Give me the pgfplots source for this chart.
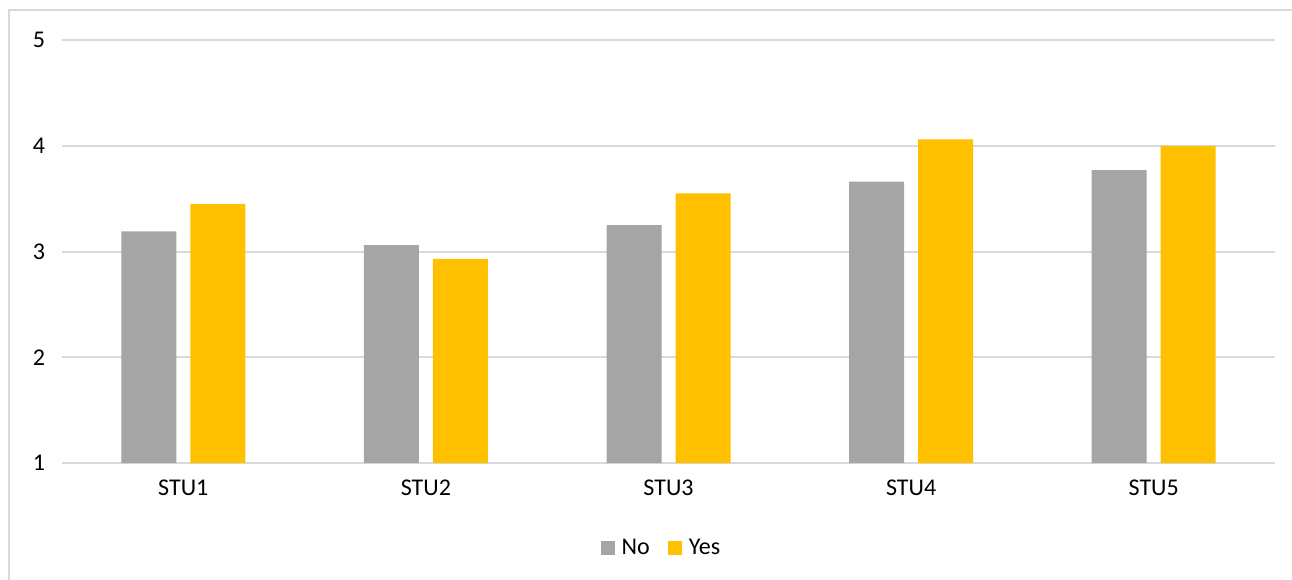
\documentclass[border=0pt]{standalone}
\usepackage{fontspec}
\setmainfont{Carlito}
\usepackage{pgfplots}
\pgfplotsset{compat=1.18}
\definecolor{barNo}{HTML}{A5A5A5}
\definecolor{barYes}{HTML}{FFC000}
\definecolor{gridc}{HTML}{D9D9D9}
\begin{document}
\begin{tikzpicture}
\path[use as bounding box] (0,0) rectangle (646pt,289.5pt);
\draw[gridc, line width=1.2pt] (4.5pt,-2pt) -- (4.5pt,284.5pt) -- (648pt,284.5pt);
\begin{axis}[
  at={(31pt,58pt)}, anchor=south west,
  scale only axis, width=606.5pt, height=211.5pt,
  xmin=-0.5, xmax=4.5, ymin=1, ymax=5,
  ytick={1,2,3,4,5},
  xtick={0,1,2,3,4},
  xticklabels={STU1,STU2,STU3,STU4,STU5},
  axis line style={draw=none},
  major tick length=0pt,
  ymajorgrids, grid style={gridc, line width=1pt},
  /pgf/number format/assume math mode=true,
  tick label style={font=\fontsize{12}{14}\selectfont, text=black},
  yticklabel style={xshift=-5pt},
  xticklabel style={yshift=-5pt},
  ybar=7pt, bar width=27.5pt,
  legend style={at={(0.495,-0.201)}, anchor=center, draw=none,
    legend columns=2, font=\fontsize{12}{14}\selectfont,
    /tikz/every even column/.append style={column sep=7pt}},
  legend image code/.code={\fill[#1] (0pt,-3.5pt) rectangle (7pt,3.5pt); \path (8.5pt,0pt);},
]
\addplot[fill=barNo, draw=none] coordinates {(0,3.19) (1,3.06) (2,3.25) (3,3.66) (4,3.77)};
\addplot[fill=barYes, draw=none] coordinates {(0,3.45) (1,2.93) (2,3.55) (3,4.06) (4,4.00)};
\legend{No,Yes}
\end{axis}
\end{tikzpicture}
\end{document}
